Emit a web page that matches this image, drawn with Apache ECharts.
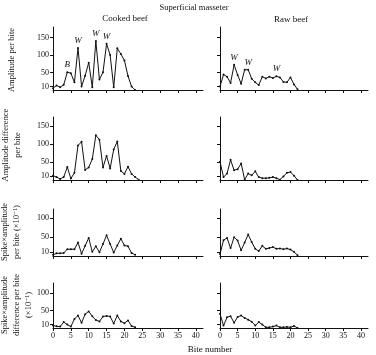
<!DOCTYPE html>
<html>
<head>
<meta charset="utf-8">
<script src="https://cdn.jsdelivr.net/npm/echarts@6/dist/echarts.min.js"></script>
<style>
  html, body { margin: 0; padding: 0; background: #fff; }
  #chart { width: 376px; height: 355px; }
</style>
</head>
<body>
<div id="chart"></div>
<script>
  // bite numbers shared by all panels
  var bites = [0, 1, 2, 3, 4, 5, 6, 7, 8, 9, 10, 11, 12, 13, 14, 15, 16, 17, 18, 19, 20, 21, 22, 23, 24];
  var xTicks = [0, 5, 10, 15, 20, 25, 30, 35, 40];
  var yTicksTall = [10, 50, 100, 150];
  var yTicksShort = [10, 50, 100];

  // cooked beef
  var cookedAmp = [5, 13, 8, 15, 51, 48, 22, 120, 10, 41, 78, 8, 140, 30, 51, 132, 100, 8, 119, 103, 84, 40, 10, 0];
  var cookedAmpDiff = [12, 8, 3, 8, 36, 4, 20, 96, 106, 28, 35, 58, 124, 112, 35, 67, 32, 85, 107, 25, 17, 37, 17, 8, 1];
  var cookedSpike = [3, 7, 7, 8, 18, 18, 18, 36, 6, 27, 48, 11, 26, 10, 32, 55, 32, 9, 28, 46, 28, 26, 8, 3];
  var cookedSpikeDiff = [7, 5, 4, 17, 10, 4, 26, 36, 15, 40, 48, 34, 23, 19, 33, 35, 33, 13, 36, 19, 14, 22, 6, 2];

  // raw beef
  var rawAmp = [10, 44, 38, 20, 72, 43, 18, 58, 58, 32, 22, 14, 38, 33, 38, 34, 39, 36, 23, 22, 36, 16, 2];
  var rawAmpDiff = [51, 8, 18, 56, 27, 30, 46, 1, 18, 13, 24, 8, 5, 5, 6, 8, 5, 1, 10, 20, 22, 12, 0];
  var rawSpike = [5, 42, 48, 21, 50, 41, 15, 36, 57, 37, 19, 13, 27, 19, 21, 24, 19, 20, 18, 20, 17, 11, 2];
  var rawSpikeDiff = [41, 7, 31, 34, 15, 32, 36, 29, 24, 18, 7, 17, 10, 2, 2, 4, 7, 2, 2, 3, 2, 6, 0];

  // letters written over peaks: [bite, letter]
  var cookedAmpMarks = [[4, 'B'], [7, 'W'], [12, 'W'], [15, 'W']];
  var rawAmpMarks = [[4, 'W'], [8, 'W'], [16, 'W']];

  var serif = '"Liberation Serif", "DejaVu Serif", serif';
  var ink = '#111';

  var rows = [
    { top: 27, height: 63, max: 180, ticks: yTicksTall },
    { top: 117, height: 63, max: 175, ticks: yTicksTall },
    { top: 209, height: 47, max: 125, ticks: yTicksShort },
    { top: 283, height: 45, max: 130, ticks: yTicksShort }
  ];
  var cols = [{ left: 53, width: 150 }, { left: 220, width: 148 }];

  var panels = [
    [cookedAmp, rawAmp],
    [cookedAmpDiff, rawAmpDiff],
    [cookedSpike, rawSpike],
    [cookedSpikeDiff, rawSpikeDiff]
  ];
  var marks = [[cookedAmpMarks, rawAmpMarks], [[], []], [[], []], [[], []]];

  var grid = [], xAxis = [], yAxis = [], series = [];

  rows.forEach(function (row, r) {
    cols.forEach(function (col, c) {
      var idx = grid.length;
      grid.push({ left: col.left, top: row.top, width: col.width, height: row.height });
      xAxis.push({
        type: 'value', gridIndex: idx, min: 0, max: 42,
        axisLine: { show: true, onZero: false, lineStyle: { color: ink, width: 1 } },
        axisTick: { show: true, length: 3, customValues: xTicks, lineStyle: { color: ink } },
        axisLabel: {
          show: r === rows.length - 1, customValues: xTicks, margin: 4,
          fontFamily: serif, fontSize: 8, color: ink
        },
        splitLine: { show: false }
      });
      yAxis.push({
        type: 'value', gridIndex: idx, min: 0, max: row.max,
        axisLine: { show: true, lineStyle: { color: ink, width: 1 } },
        axisTick: { show: true, length: 3, customValues: row.ticks, lineStyle: { color: ink } },
        axisLabel: {
          show: c === 0, customValues: row.ticks, margin: 4,
          fontFamily: serif, fontSize: 8, color: ink
        },
        splitLine: { show: false }
      });
      var letters = {};
      marks[r][c].forEach(function (m) { letters[m[0]] = m[1]; });
      series.push({
        type: 'line', xAxisIndex: idx, yAxisIndex: idx,
        symbol: 'circle', symbolSize: 2, showSymbol: true,
        itemStyle: { color: ink },
        lineStyle: { color: ink, width: 1 },
        silent: true, animation: false,
        data: panels[r][c].map(function (v, i) {
          var item = { value: [bites[i], v] };
          if (letters[i]) {
            item.label = {
              show: true, formatter: letters[i], position: 'top', distance: 2,
              fontFamily: serif, fontStyle: 'italic', fontSize: 9, color: ink
            };
          }
          return item;
        })
      });
    });
  });

  function vtext(x, y, text) {
    return {
      type: 'text', x: x, y: y, rotation: Math.PI / 2,
      style: {
        text: text, fill: ink, font: '8.5px ' + serif,
        align: 'center', verticalAlign: 'middle', lineHeight: 12
      }
    };
  }
  function htext(x, y, text, size) {
    return {
      type: 'text', x: x, y: y,
      style: {
        text: text, fill: ink, font: size + 'px ' + serif,
        align: 'center', verticalAlign: 'middle'
      }
    };
  }

  var chart = echarts.init(document.getElementById('chart'));
  chart.setOption({
    backgroundColor: '#fff',
    animation: false,
    grid: grid,
    xAxis: xAxis,
    yAxis: yAxis,
    series: series,
    graphic: [
      htext(194, 8, 'Superficial masseter', 8.5),
      htext(125, 19, 'Cooked beef', 9),
      htext(291, 20, 'Raw beef', 9),
      htext(210, 350, 'Bite number', 9),
      vtext(12, 60, 'Amplitude per bite'),
      vtext(12, 145, 'Amplitude difference\nper bite'),
      vtext(11, 232, 'Spike\u00d7amplitude\nper bite (\u00d710\u207b\u00b9)'),
      vtext(17, 305, 'Spike\u00d7amplitude\ndifference per bite\n(\u00d710\u207b\u00b9)')
    ]
  });
</script>
</body>
</html>
